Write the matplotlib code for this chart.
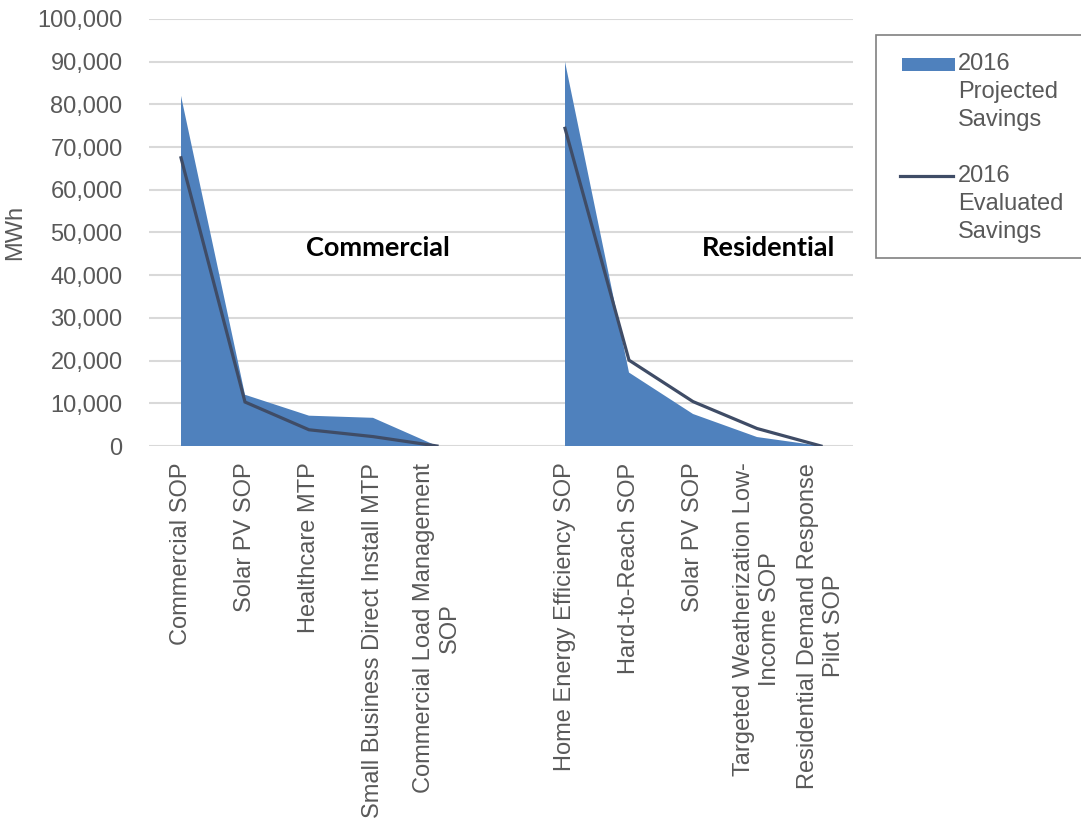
import numpy as np
import matplotlib
matplotlib.use("Agg")
import matplotlib.pyplot as plt
from matplotlib.ticker import FuncFormatter
from matplotlib.patches import Rectangle
from matplotlib.lines import Line2D

plt.rcParams['font.family'] = ['Liberation Sans', 'DejaVu Sans']

# program names, with an empty slot between the two sectors
programs = ["Commercial SOP", "Solar PV SOP", "Healthcare MTP",
            "Small Business Direct Install MTP", "Commercial Load Management\nSOP",
            "",
            "Home Energy Efficiency SOP", "Hard-to-Reach SOP", "Solar PV SOP",
            "Targeted Weatherization Low-\nIncome SOP",
            "Residential Demand Response\nPilot SOP"]

# MWh, None marks the spacer slot
projected = [82000, 12000, 7100, 6600, 0, None, 90000, 17200, 7500, 2100, 0]
evaluated = [67500, 10300, 3800, 2200, 0, None, 74400, 20100, 10400, 4100, 0]

sector_names = ["Commercial", "Residential"]
series_names = ["2016\nProjected\nSavings", "2016\nEvaluated\nSavings"]

proj = np.array([np.nan if v is None else v for v in projected], dtype=float)
eval_ = np.array([np.nan if v is None else v for v in evaluated], dtype=float)
x = np.arange(len(programs))

W, H = 1081, 821
fig = plt.figure(figsize=(W / 100, H / 100), dpi=100)
ax = fig.add_axes([149 / W, 1 - 446 / H, (853 - 149) / W, (446 - 19) / H])

fill_col = "#4F81BD"
line_col = "#3F4C66"
txt_col = "#595959"
fs = 17

ok = ~np.isnan(proj)
ax.fill_between(x, 0, proj, where=ok, color=fill_col, linewidth=0, zorder=2)
ax.plot(x, eval_, color=line_col, linewidth=2.3, zorder=3, solid_joinstyle="miter")

ax.set_xlim(-0.5, len(programs) - 0.5)
ax.set_ylim(0, 100000)
ax.set_yticks(np.arange(0, 100001, 10000))
ax.yaxis.set_major_formatter(FuncFormatter(lambda v, p: f"{int(v):,}"))
ax.grid(axis="y", color="#D9D9D9", linewidth=1.5, zorder=0)
ax.set_axisbelow(True)
for s in ax.spines.values():
    s.set_visible(False)

ax.set_xticks(x)
ax.set_xticklabels(programs, rotation=90, ha="center", va="top",
                   multialignment="center")
ax.tick_params(axis="both", length=0, labelsize=fs, labelcolor=txt_col)
ax.tick_params(axis="x", pad=12)
ax.tick_params(axis="y", pad=19)

ax.set_ylabel("MWh", fontsize=fs, color=txt_col, labelpad=8)

ax.text(3.08, 46300, sector_names[0], fontsize=19.5, fontweight="bold",
        family=["Lato", "DejaVu Sans"], ha="center", va="center", color="black")
ax.text(9.18, 46300, sector_names[1], fontsize=19.5, fontweight="bold",
        family=["Lato", "DejaVu Sans"], ha="center", va="center", color="black")

# legend box drawn in pixel coordinates, handles beside the first line of text
def px(xp, yp):
    return xp / W, 1 - yp / H

fig.patches.append(Rectangle(px(876, 258), (W + 20 - 876) / W, (258 - 35) / H,
                             transform=fig.transFigure, facecolor="white",
                             edgecolor="#808080", linewidth=1.2))
fig.patches.append(Rectangle(px(902, 71), 53 / W, 13 / H,
                             transform=fig.transFigure, facecolor=fill_col,
                             edgecolor="none"))
fig.lines.append(Line2D([900 / W, 953 / W], [1 - 176 / H, 1 - 176 / H],
                        transform=fig.transFigure, color=line_col, linewidth=2.3))
for label, ytop in zip(series_names, [53, 165]):
    fig.text(958 / W, 1 - ytop / H, label, fontsize=fs, color=txt_col,
             ha="left", va="top", linespacing=1.35)

fig.savefig("out.png", dpi=100)
